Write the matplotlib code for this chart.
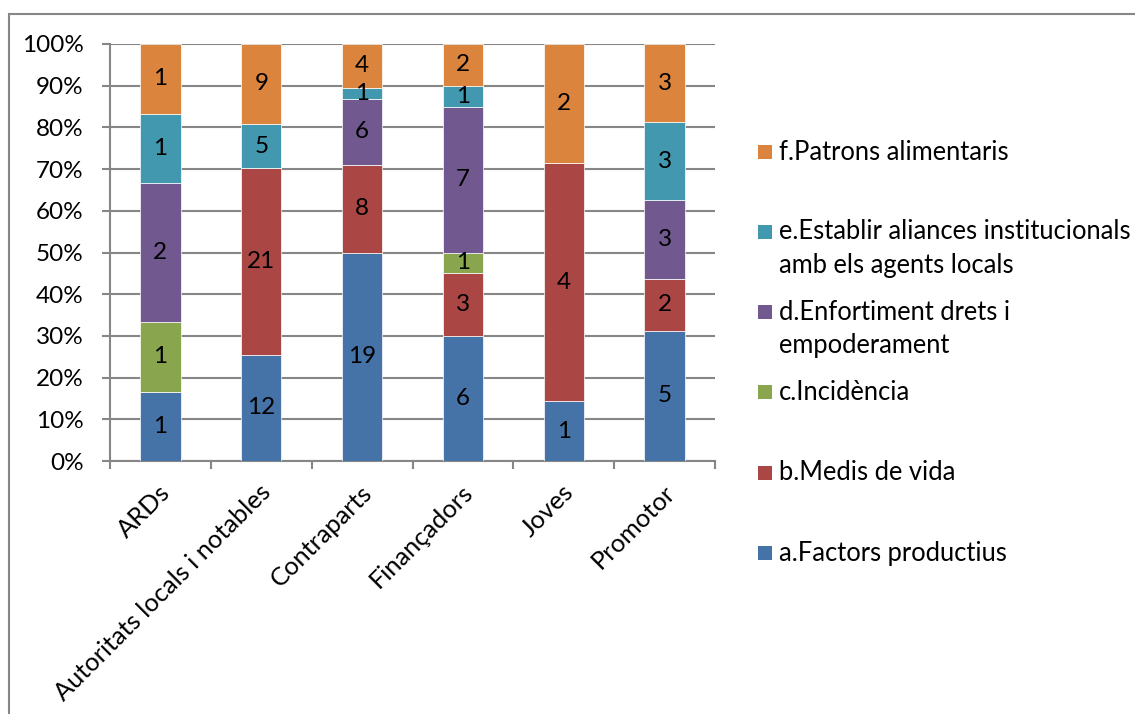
import matplotlib
matplotlib.use("Agg")
import matplotlib.pyplot as plt
import matplotlib.patches as patches
from matplotlib.transforms import ScaledTranslation
import numpy as np

plt.rcParams['font.family'] = ['Lato', 'DejaVu Sans']

# Dades del gràfic
categories = ["ARDs", "Autoritats locals i notables", "Contraparts",
              "Finançadors", "Joves", "Promotor"]
series_names = ["a.Factors productius", "b.Medis de vida", "c.Incidència",
                "d.Enfortiment drets i\nempoderament",
                "e.Establir aliances institucionals\namb els agents locals",
                "f.Patrons alimentaris"]
a_vals = [1, 12, 19, 6, 1, 5]
b_vals = [0, 21, 8, 3, 4, 2]
c_vals = [1, 0, 0, 1, 0, 0]
d_vals = [2, 0, 6, 7, 0, 3]
e_vals = [1, 5, 1, 1, 0, 3]
f_vals = [1, 9, 4, 2, 2, 3]
y_ticks = [0, 10, 20, 30, 40, 50, 60, 70, 80, 90, 100]

colors = ["#4572A7", "#AA4643", "#89A54E", "#71588F", "#4198AF", "#DB843D"]
grey = "#868686"
fs = 17.5      # xifres
fs_cat = 18.3  # categories
fs_leg = 18.4  # llegenda

W, H = 1135, 714
fig = plt.figure(figsize=(W / 100, H / 100), dpi=100)
ax = fig.add_axes([110 / W, 1 - 461 / H, 605 / W, 417 / H])

data = np.array([a_vals, b_vals, c_vals, d_vals, e_vals, f_vals], dtype=float)
totals = data.sum(axis=0)
pct = data / totals * 100
x = np.arange(len(categories))
bottom = np.zeros(len(categories))

for i in range(len(series_names)):
    ax.bar(x, pct[i], 0.4, bottom=bottom, color=colors[i],
           edgecolor="white", linewidth=0.5, zorder=3)
    for j in range(len(categories)):
        if data[i, j] > 0:
            ax.text(x[j], bottom[j] + pct[i, j] / 2, "%d" % data[i, j],
                    ha="center", va="center", fontsize=fs, zorder=4)
    bottom += pct[i]

ax.set_xlim(-0.5, len(categories) - 0.5)
ax.set_ylim(0, 100)
ax.set_yticks(y_ticks)
ax.set_yticklabels(["%d%%" % v for v in y_ticks], fontsize=fs)
ax.yaxis.grid(True, color=grey, linewidth=1.5, zorder=0)
ax.tick_params(axis="y", length=6, width=1.5, color=grey, pad=13)

ax.set_xticks(x)
ax.set_xticklabels(categories, fontsize=fs_cat, rotation=45, ha="right",
                   rotation_mode="anchor", va="center")
ax.set_xticks(np.arange(-0.5, len(categories)), minor=True)
ax.tick_params(axis="x", which="major", length=0, pad=20)
ax.tick_params(axis="x", which="minor", length=6, width=1.5, color=grey)
for lab in ax.get_xticklabels():
    lab.set_transform(lab.get_transform() + ScaledTranslation(0.06, 0, fig.dpi_scale_trans))

for s in ["top", "right"]:
    ax.spines[s].set_visible(False)
for s in ["left", "bottom"]:
    ax.spines[s].set_color(grey)
    ax.spines[s].set_linewidth(1.5)

# Llegenda
leg_y = [152, 232, 312, 392, 473, 553]
for k, yy in enumerate(leg_y):
    idx = len(series_names) - 1 - k
    fig.patches.append(patches.Rectangle((758 / W, 1 - (yy + 7) / H), 14 / W, 14 / H,
                                         transform=fig.transFigure,
                                         facecolor=colors[idx], edgecolor="none"))
    for m, line in enumerate(series_names[idx].split("\n")):
        fig.text(779 / W, 1 - (yy + m * 33) / H, line, fontsize=fs_leg,
                 ha="left", va="center")

# Marc del gràfic
fig.patches.append(patches.Rectangle((9 / W, -0.05), 1.2, 1 - 14 / H + 0.05,
                                     transform=fig.transFigure, fill=False,
                                     edgecolor=grey, linewidth=1.5))

fig.savefig("out.png", dpi=100)
